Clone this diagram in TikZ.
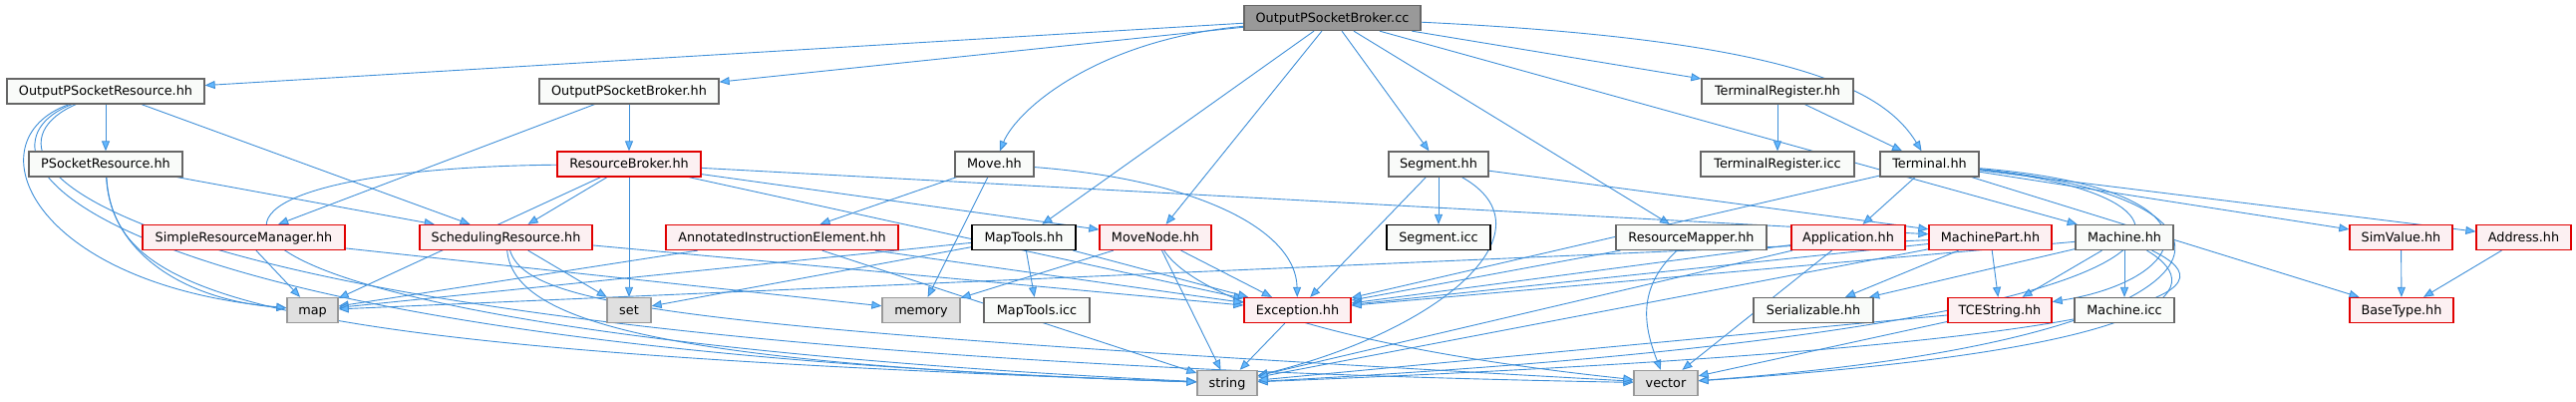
\documentclass[tikz,border=0pt]{standalone}
\usepackage{fontspec}
\setmainfont{DejaVu Sans}
\usepackage{xcolor}
\usepackage{tikz}
\usetikzlibrary{arrows.meta, positioning}
\definecolor{edgeblue}{HTML}{3F8FD8}
\definecolor{tipblue}{HTML}{63B8FF}
\definecolor{boxgrey}{HTML}{666666}
\definecolor{boxfill}{HTML}{F9FBF9}
\definecolor{boxred}{HTML}{E00000}
\definecolor{redfill}{HTML}{FCF0F2}
\definecolor{sysgrey}{HTML}{999999}
\definecolor{sysfill}{HTML}{E0E0E0}
\definecolor{rootfill}{HTML}{999999}
\pgfdeclarelayer{bg}
\pgfsetlayers{bg,main}

\begin{document}
\begin{tikzpicture}[x=1pt,y=-1pt,
        file/.style={rectangle,draw=boxgrey,fill=boxfill,line width=1.3pt,inner sep=0pt,
            minimum height=25pt,text height=11pt,text depth=2pt,font=\fontsize{12.8}{14}\selectfont},
        trunc/.style={file,draw=boxred,fill=redfill},
        sys/.style={file,draw=sysgrey,fill=sysfill},
        root/.style={file,fill=rootfill},
        leaf/.style={file,draw=black},
        incl/.style={draw=edgeblue,line width=0.9pt,-{Triangle[length=10pt,width=8pt,fill=tipblue]}}]
            \useasboundingbox (0,0) rectangle (2584,403);
            \node[root,minimum width=177](cc) at (1336.5,18) {OutputPSocketBroker.cc};
            \node[file,minimum width=198](opsr) at (106,91.5) {OutputPSocketResource.hh};
            \node[file,minimum width=180](opsbh) at (631,91.5) {OutputPSocketBroker.hh};
            \node[file,minimum width=152](treg) at (1783,91.5) {TerminalRegister.hh};
            \node[file,minimum width=154](psr) at (106,164.5) {PSocketResource.hh};
            \node[trunc,minimum width=144](rbroker) at (631,164.5) {ResourceBroker.hh};
            \node[file,minimum width=79](move) at (997.5,164.5) {Move.hh};
            \node[file,minimum width=100](segment) at (1443,164.5) {Segment.hh};
            \node[file,minimum width=154](tregicc) at (1783,164.5) {TerminalRegister.icc};
            \node[file,minimum width=99](terminal) at (1935.5,164.5) {Terminal.hh};
            \node[trunc,minimum width=203](srm) at (244.5,238) {SimpleResourceManager.hh};
            \node[trunc,minimum width=173](sched) at (507.5,238) {SchedulingResource.hh};
            \node[trunc,minimum width=233](aie) at (784.5,238) {AnnotatedInstructionElement.hh};
            \node[leaf,minimum width=104](maptools) at (1027,238) {MapTools.hh};
            \node[trunc,minimum width=112](movenode) at (1159,238) {MoveNode.hh};
            \node[leaf,minimum width=104](segicc) at (1443,238) {Segment.icc};
            \node[file,minimum width=151](rmapper) at (1696.5,238) {ResourceMapper.hh};
            \node[trunc,minimum width=114](app) at (1854,238) {Application.hh};
            \node[trunc,minimum width=123](mpart) at (1996.5,238) {MachinePart.hh};
            \node[file,minimum width=98](machine) at (2131,238) {Machine.hh};
            \node[trunc,minimum width=103](simval) at (2408.5,238) {SimValue.hh};
            \node[trunc,minimum width=95](address) at (2531.5,238) {Address.hh};
            \node[sys,minimum width=51](map) at (313.5,311) {map};
            \node[sys,minimum width=44](set) at (631,311) {set};
            \node[sys,minimum width=78](memory) at (924,311) {memory};
            \node[file,minimum width=106](maptoolsicc) at (1040,311) {MapTools.icc};
            \node[trunc,minimum width=107](exc) at (1301.5,311) {Exception.hh};
            \node[file,minimum width=120](serial) at (1819,311) {Serializable.hh};
            \node[trunc,minimum width=104](tcestr) at (2006,311) {TCEString.hh};
            \node[file,minimum width=100](machicc) at (2131,311) {Machine.icc};
            \node[trunc,minimum width=104](basetype) at (2409,311) {BaseType.hh};
            \node[sys,minimum width=60](string) at (1231,384) {string};
            \node[sys,minimum width=64](vector) at (1671,384) {vector};
            \begin{pgfonlayer}{bg}
            \draw[incl] (cc) -- (opsr);
            \draw[incl] (cc) -- (opsbh);
            \draw[incl] (cc) .. controls (1100,40) and (1020,110) .. (move);
            \draw[incl] (cc) -- (maptools);
            \draw[incl] (cc) -- (movenode);
            \draw[incl] (cc) -- (segment);
            \draw[incl] (cc) -- (rmapper);
            \draw[incl] (cc) -- (machine);
            \draw[incl] (cc) -- (treg);
            \draw[incl] (cc) .. controls (1800,40) and (1890,90) .. (terminal);
            \draw[incl] (opsr) -- (psr);
            \draw[incl] (opsr) -- (sched);
            \draw[incl] (opsr) .. controls (-30,140) and (30,285) .. (map);
            \draw[incl] (opsr) .. controls (-45,150) and (60,345) .. (string);
            \draw[incl] (opsr) .. controls (-50,160) and (100,355) .. (vector);
            \draw[incl] (psr) -- (sched);
            \draw[incl] (psr) .. controls (110,250) and (180,300) .. (map);
            \draw[incl] (psr) .. controls (115,300) and (250,350) .. (string);
            \draw[incl] (opsbh) -- (rbroker);
            \draw[incl] (opsbh) -- (srm);
            \draw[incl] (rbroker) -- (sched);
            \draw[incl] (rbroker) -- (set);
            \draw[incl] (rbroker) -- (map);
            \draw[incl] (rbroker) .. controls (90,170) and (110,330) .. (string);
            \draw[incl] (rbroker) -- (movenode);
            \draw[incl] (rbroker) -- (exc);
            \draw[incl] (rbroker) -- (mpart);
            \draw[incl] (srm) -- (map);
            \draw[incl] (srm) -- (memory);
            \draw[incl] (sched) -- (set);
            \draw[incl] (sched) -- (exc);
            \draw[incl] (sched) .. controls (515,320) and (650,365) .. (string);
            \draw[incl] (sched) .. controls (530,310) and (700,330) .. (vector);
            \draw[incl] (aie) -- (map);
            \draw[incl] (aie) -- (string);
            \draw[incl] (aie) -- (exc);
            \draw[incl] (move) -- (aie);
            \draw[incl] (move) -- (memory);
            \draw[incl] (move) .. controls (1200,180) and (1300,230) .. (exc);
            \draw[incl] (maptools) -- (map);
            \draw[incl] (maptools) -- (set);
            \draw[incl] (maptools) -- (maptoolsicc);
            \draw[incl] (maptools) -- (exc);
            \draw[incl] (movenode) -- (memory);
            \draw[incl] (movenode) -- (exc);
            \draw[incl] (movenode) -- (string);
            \draw[incl] (movenode) .. controls (1200,300) and (1350,350) .. (vector);
            \draw[incl] (exc) -- (string);
            \draw[incl] (segment) -- (segicc);
            \draw[incl] (segment) -- (exc);
            \draw[incl] (segment) .. controls (1560,230) and (1450,330) .. (string);
            \draw[incl] (segment) -- (mpart);
            \draw[incl] (rmapper) -- (exc);
            \draw[incl] (rmapper) .. controls (1640,290) and (1650,330) .. (vector);
            \draw[incl] (treg) -- (tregicc);
            \draw[incl] (treg) -- (terminal);
            \draw[incl] (terminal) -- (app);
            \draw[incl] (terminal) -- (exc);
            \draw[incl] (terminal) -- (simval);
            \draw[incl] (terminal) -- (address);
            \draw[incl] (terminal) -- (basetype);
            \draw[incl] (terminal) .. controls (2240,190) and (2200,280) .. (tcestr);
            \draw[incl] (terminal) .. controls (2260,200) and (2260,330) .. (string);
            \draw[incl] (terminal) .. controls (2290,200) and (2270,340) .. (vector);
            \draw[incl] (app) -- (exc);
            \draw[incl] (app) -- (string);
            \draw[incl] (app) -- (vector);
            \draw[incl] (mpart) -- (serial);
            \draw[incl] (mpart) -- (tcestr);
            \draw[incl] (mpart) -- (exc);
            \draw[incl] (mpart) -- (string);
            \draw[incl] (mpart) -- (map);
            \draw[incl] (machine) -- (serial);
            \draw[incl] (machine) -- (tcestr);
            \draw[incl] (machine) -- (machicc);
            \draw[incl] (machine) -- (exc);
            \draw[incl] (machine) .. controls (2240,290) and (2200,345) .. (string);
            \draw[incl] (machine) .. controls (2220,290) and (2180,350) .. (vector);
            \draw[incl] (tcestr) -- (string);
            \draw[incl] (tcestr) -- (vector);
            \draw[incl] (simval) -- (basetype);
            \draw[incl] (address) -- (basetype);
            \end{pgfonlayer}
        \end{tikzpicture}
\end{document}
